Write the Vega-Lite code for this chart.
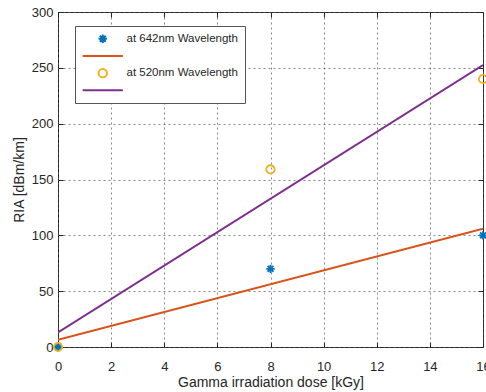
{
  "$schema": "https://vega.github.io/schema/vega-lite/v6.json",
  "autosize": "none",
  "width": 425,
  "height": 335,
  "padding": {"left": 58, "top": 12, "right": 3, "bottom": 45},
  "background": "white",
  "config": {
    "view": {"stroke": "#262626", "strokeWidth": 1},
    "font": "Liberation Sans",
    "axis": {
      "labelFont": "Liberation Sans",
      "titleFont": "Liberation Sans",
      "labelFontSize": 13,
      "titleFontSize": 14,
      "labelColor": "#262626",
      "titleColor": "#262626",
      "titleFontWeight": "normal",
      "labelFlush": false,
      "domain": false,
      "tickColor": "#262626",
      "tickSize": -5,
      "tickWidth": 1,
      "gridColor": "#555555",
      "gridDash": [2, 3],
      "gridOpacity": 0.7
    }
  },
  "datasets": {
    "pts": [
      {"dose": 0, "ria": 0, "series": "at 642nm Wavelength"},
      {"dose": 8, "ria": 70, "series": "at 642nm Wavelength"},
      {"dose": 16, "ria": 100, "series": "at 642nm Wavelength"},
      {"dose": 0, "ria": 0, "series": "at 520nm Wavelength"},
      {"dose": 8, "ria": 159, "series": "at 520nm Wavelength"},
      {"dose": 16, "ria": 240, "series": "at 520nm Wavelength"}
    ],
    "fits": [
      {"dose": 0, "ria": 6.5, "series": "fit642"},
      {"dose": 16, "ria": 106, "series": "fit642"},
      {"dose": 0, "ria": 13, "series": "fit520"},
      {"dose": 16, "ria": 252.5, "series": "fit520"}
    ]
  },
  "layer": [
    {
      "data": {"name": "fits"},
      "mark": {"type": "line", "strokeWidth": 2, "clip": true},
      "encoding": {
        "x": {
          "field": "dose", "type": "quantitative",
          "scale": {"domain": [0, 16], "nice": false, "zero": false},
          "axis": {"values": [0,2,4,6,8,10,12,14,16], "title": "Gamma irradiation dose [kGy]", "grid": true, "labelPadding": 18, "titlePadding": 2}
        },
        "y": {
          "field": "ria", "type": "quantitative",
          "scale": {"domain": [0, 300], "nice": false},
          "axis": {"values": [0,50,100,150,200,250,300], "title": "RIA [dBm/km]", "grid": true, "labelPadding": 10, "titlePadding": 5}
        },
        "color": {
          "field": "series", "type": "nominal",
          "scale": {
            "domain": ["at 642nm Wavelength", "fit642", "at 520nm Wavelength", "fit520"],
            "range": ["#0072BD", "#D95319", "#EDB120", "#7E2F8E"]
          }
        }
      }
    },
    {
      "data": {"name": "pts"},
      "mark": {"type": "point", "filled": false, "strokeWidth": 1.8, "size": 70, "opacity": 1},
      "encoding": {
        "x": {
          "field": "dose", "type": "quantitative",
          "axis": {"orient": "top", "labels": false, "title": null, "grid": false, "values": [0,2,4,6,8,10,12,14,16]}
        },
        "y": {
          "field": "ria", "type": "quantitative",
          "axis": {"orient": "right", "labels": false, "title": null, "grid": false, "values": [0,50,100,150,200,250,300]}
        },
        "color": {
          "field": "series", "type": "nominal",
          "legend": {
            "title": null,
            "orient": "none",
            "legendX": 17,
            "legendY": 14,
            "direction": "vertical",
            "labelExpr": "indexof(datum.label, 'fit') == 0 ? '' : datum.label",
            "labelFont": "Liberation Sans",
            "labelFontSize": 11.5,
            "labelColor": "#262626",
            "strokeColor": "#555555",
            "fillColor": "white",
            "padding": 7,
            "rowPadding": 2.2,
            "symbolOffset": 15,
            "labelOffset": 18,
            "symbolStrokeWidth": 2,
            "symbolSize": 70
          }
        },
        "shape": {
          "field": "series", "type": "nominal",
          "scale": {
            "domain": ["at 642nm Wavelength", "fit642", "at 520nm Wavelength", "fit520"],
            "range": ["M-1,0L1,0M0,-1L0,1M-0.7,-0.7L0.7,0.7M-0.7,0.7L0.7,-0.7", "M-4.8,0L4.8,0", "circle", "M-4.8,0L4.8,0"]
          },
          "legend": {"title": null}
        }
      }
    }
  ],
  "resolve": {"axis": {"x": "independent", "y": "independent"}}
}
